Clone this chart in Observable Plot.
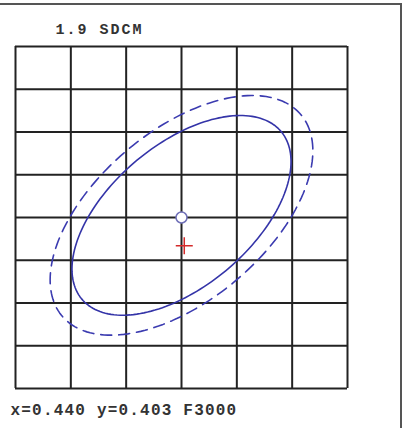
<!DOCTYPE html>
<html>
<head>
<meta charset="utf-8">
<script src="https://cdn.jsdelivr.net/npm/d3@7"></script>
<script src="https://cdn.jsdelivr.net/npm/@observablehq/plot@0.6"></script>
<style>
  html, body { margin: 0; padding: 0; background: #fff; }
  #wrap { position: relative; width: 406px; height: 428px; overflow: hidden; }
  #border { position: absolute; left: 0; top: 3px; width: 400px; height: 440px;
            border-top: 2px solid #555; border-right: 2px solid #555; pointer-events: none; }
  #wrap svg { position: absolute; left: 0; top: 0; }
</style>
</head>
<body>
<div id="wrap"><div id="border"></div></div>
<script>
// Title and footer
const titleText = "1.9 SDCM";
const footerText = "x=0.440 y=0.403 F3000";

// Grid (chromaticity x, y)
const xTicks = [0.437, 0.438, 0.439, 0.440, 0.441, 0.442, 0.443];
const yTicks = [0.399, 0.400, 0.401, 0.402, 0.403, 0.404, 0.405, 0.406, 0.407];

// Target point (circle) and measured point (plus)
const targetX = [0.440];
const targetY = [0.403];
const measuredX = [0.44005];
const measuredY = [0.40234];

// Ellipses: centre, semi-axes (chromaticity units), rotation (deg)
const ellipseNames = ["inner", "outer"];
const ellipseCx = [0.440, 0.440];
const ellipseCy = [0.40305, 0.40305];
const ellipseA = [0.00270, 0.00324];
const ellipseB = [0.001444, 0.00173];
const ellipseAngle = [53.6, 53.6];

const ellipsePts = [];
ellipseNames.forEach((name, i) => {
  const th = ellipseAngle[i] * Math.PI / 180;
  for (let k = 0; k < 180; k++) {
    const t = k / 180 * 2 * Math.PI;
    const u = ellipseA[i] * Math.cos(t), v = ellipseB[i] * Math.sin(t);
    ellipsePts.push({
      name,
      x: ellipseCx[i] + u * Math.cos(th) - v * Math.sin(th),
      y: ellipseCy[i] + u * Math.sin(th) + v * Math.cos(th)
    });
  }
});

const plusSymbol = {
  draw(ctx, size) {
    const r = Math.sqrt(size / Math.PI);
    ctx.moveTo(-r, 0); ctx.lineTo(r, 0);
    ctx.moveTo(0, -r); ctx.lineTo(0, r);
  }
};

const font = "'Liberation Mono', 'DejaVu Sans Mono', monospace";

const chart = Plot.plot({
  width: 406,
  height: 428,
  marginLeft: 15,
  marginRight: 59,
  marginTop: 46,
  marginBottom: 40,
  x: { domain: [0.437, 0.443], axis: null },
  y: { domain: [0.399, 0.407], axis: null },
  style: { background: "transparent", overflow: "visible" },
  marks: [
    Plot.ruleX(xTicks, { stroke: "#222", strokeWidth: 2 }),
    Plot.ruleY(yTicks, { stroke: "#222", strokeWidth: 2 }),
    Plot.line(ellipsePts.filter(d => d.name === "outer"), {
      x: "x", y: "y", curve: "linear-closed",
      stroke: "#3b3bb0", strokeWidth: 1.6, strokeDasharray: "11,7"
    }),
    Plot.line(ellipsePts.filter(d => d.name === "inner"), {
      x: "x", y: "y", curve: "linear-closed",
      stroke: "#3434a8", strokeWidth: 1.6
    }),
    Plot.dot(targetX.map((x, i) => ({ x, y: targetY[i] })), {
      x: "x", y: "y", r: 5.5, fill: "white", stroke: "#7070b8", strokeWidth: 1.5
    }),
    Plot.dot(measuredX.map((x, i) => ({ x, y: measuredY[i] })), {
      x: "x", y: "y", r: 8.5, symbol: plusSymbol, fill: "none", stroke: "#d42a2a", strokeWidth: 1.5
    }),
    Plot.text([titleText], {
      frameAnchor: "top-left", dx: 40, dy: -13, lineAnchor: "bottom", textAnchor: "start",
      text: d => d, fontFamily: font, fontSize: 15, fontWeight: "bold", fill: "#333"
    }),
    Plot.text([footerText], {
      frameAnchor: "bottom-left", dx: -5, dy: 26, lineAnchor: "bottom", textAnchor: "start",
      text: d => d, fontFamily: font, fontSize: 16, fontWeight: "bold", fill: "#333"
    })
  ]
});
// letter spacing to match the wide typewriter spacing of the original
d3.select(chart).selectAll("text").each(function () {
  const t = d3.select(this);
  const txt = t.text();
  if (txt === titleText) t.style("letter-spacing", "2px");
  if (txt === footerText) t.style("letter-spacing", "1.2px");
});
document.getElementById("wrap").prepend(chart);
</script>
</body>
</html>
